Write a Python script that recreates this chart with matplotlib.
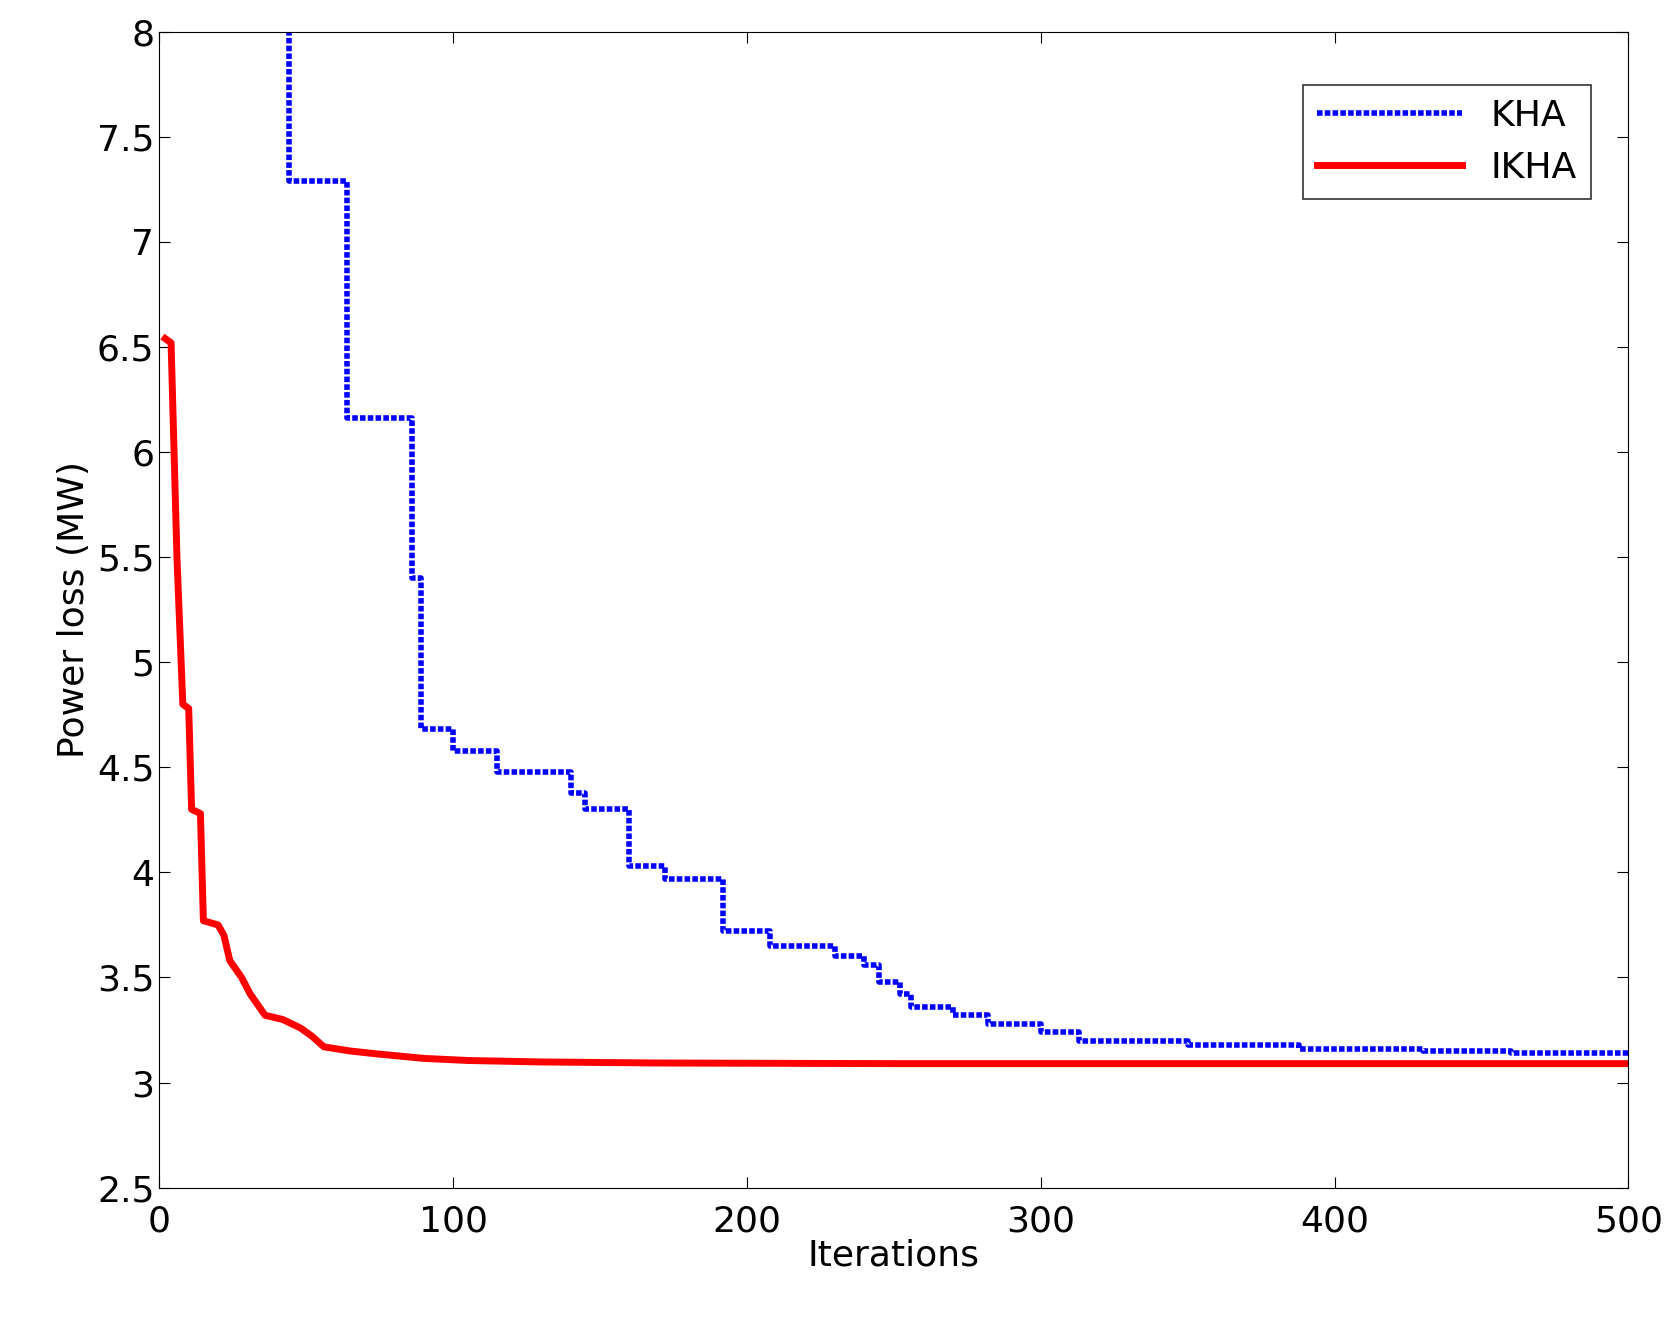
import matplotlib
matplotlib.use("Agg")
import matplotlib.pyplot as plt

# KHA (step curve)
kha_x = [0, 44, 64, 86, 89, 100, 115, 140, 145, 160, 172, 192, 208, 230, 240, 245,
         252, 256, 270, 282, 300, 313, 350, 388, 430, 460, 500]
kha_y = [8.6, 7.29, 6.16, 5.4, 4.68, 4.58, 4.48, 4.38, 4.30, 4.03, 3.97, 3.72, 3.65,
         3.60, 3.56, 3.48, 3.42, 3.36, 3.32, 3.28, 3.24, 3.20, 3.18, 3.16, 3.15, 3.14, 3.14]

# IKHA
ikha_x = [2, 4, 6, 8, 10, 11, 14, 15, 20, 22, 24, 28, 31, 33, 36, 42, 48, 52, 56, 65,
          75, 90, 105, 130, 170, 250, 500]
ikha_y = [6.54, 6.52, 5.5, 4.8, 4.78, 4.3, 4.28, 3.77, 3.75, 3.70, 3.58, 3.50, 3.42,
          3.38, 3.32, 3.30, 3.26, 3.22, 3.17, 3.15, 3.135, 3.115, 3.105, 3.098, 3.093,
          3.09, 3.09]

fig = plt.figure(figsize=(16.77, 13.24), dpi=100)
ax = fig.add_axes([0.095, 0.103, 0.876, 0.873])
ax.step(kha_x, kha_y, where="post", color="blue", linestyle=(0, (1, 0.4)),
        linewidth=4, label="KHA")
ax.plot(ikha_x, ikha_y, color="red", linewidth=5, label="IKHA")
ax.set_xlim(0, 500)
ax.set_ylim(2.5, 8)
ax.set_xticks([0, 100, 200, 300, 400, 500])
ax.set_yticks([2.5, 3, 3.5, 4, 4.5, 5, 5.5, 6, 6.5, 7, 7.5, 8])
ax.set_yticklabels(["2.5", "3", "3.5", "4", "4.5", "5", "5.5", "6", "6.5", "7", "7.5", "8"])
ax.tick_params(labelsize=26, direction="in", top=True, right=True, length=8)
ax.tick_params(axis="x", pad=12)
ax.set_xlabel("Iterations", fontsize=26, labelpad=0)
ax.set_ylabel("Power loss (MW)", fontsize=26, labelpad=4)
leg = ax.legend(loc="upper right", fontsize=26, fancybox=False, edgecolor="black",
                handlelength=4, bbox_to_anchor=(0.987, 0.97))
leg.get_frame().set_linewidth(1.2)
fig.savefig("out.png", dpi=100)
